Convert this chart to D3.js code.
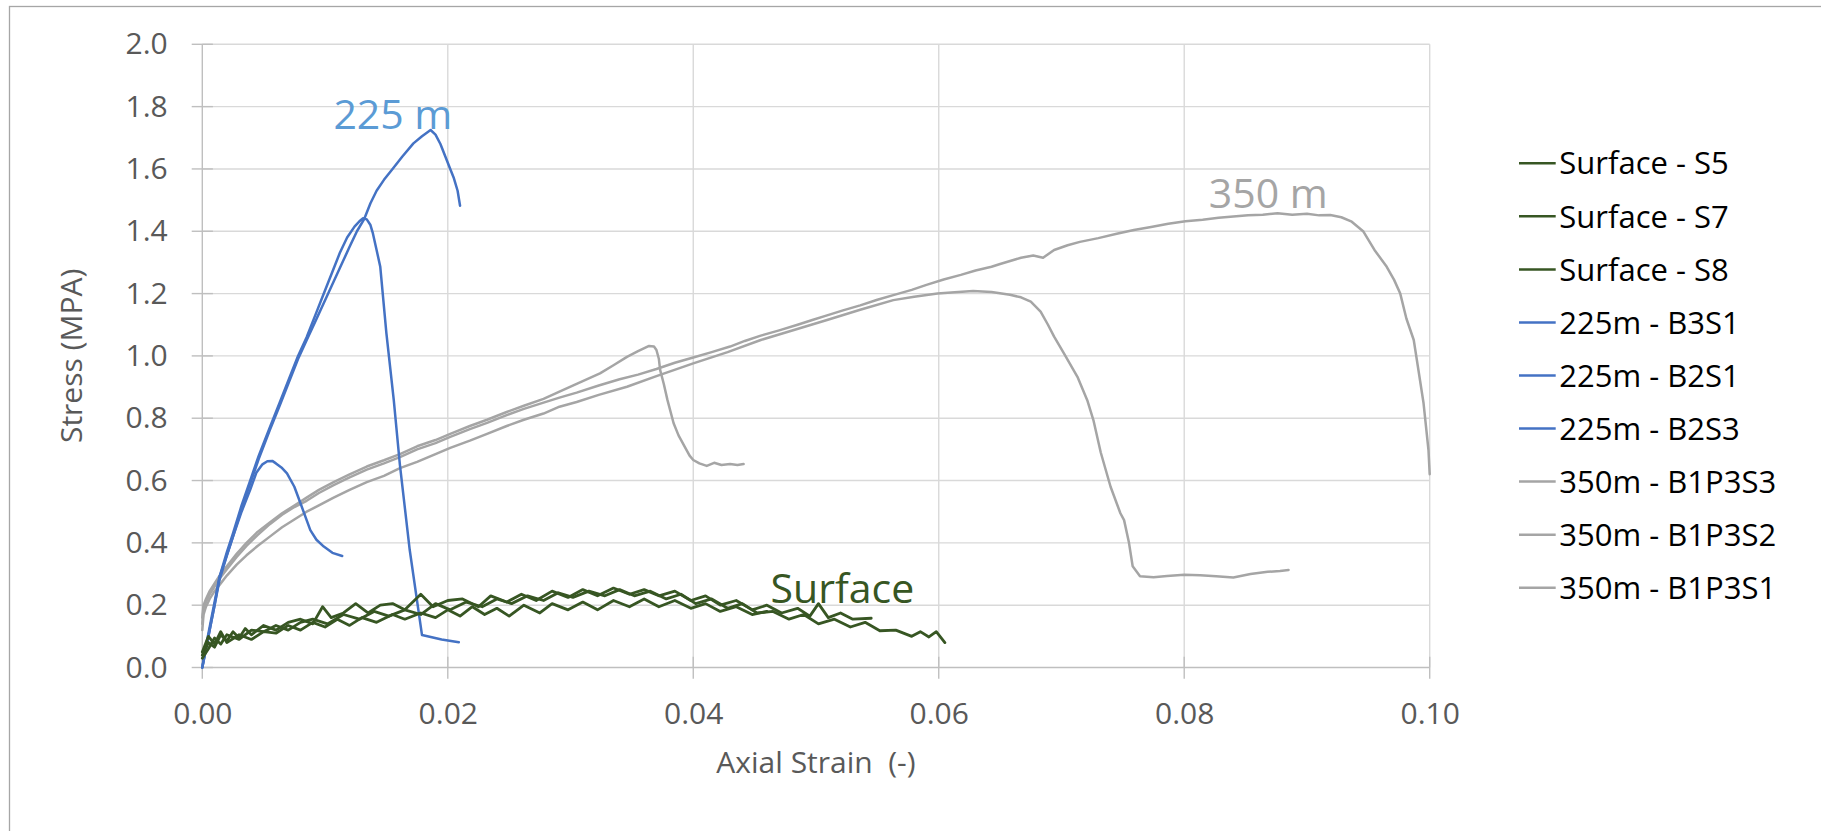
<!DOCTYPE html>
<meta charset="utf-8">
<html>
<script src="https://d3js.org/d3.v7.min.js"></script>
<style>
    body { margin: 0; background: #fff; }
    text { font-family: "Open Sans", sans-serif; }
</style>
<body>
<div id="my_dataviz"></div>
<script>

    // tick values
    var xTicks = [0, 0.02, 0.04, 0.06, 0.08, 0.10];
    var yTicks = [0, 0.2, 0.4, 0.6, 0.8, 1.0, 1.2, 1.4, 1.6, 1.8, 2.0];

    // series names (legend order) and the group they belong to
    var seriesNames = ["Surface - S5", "Surface - S7", "Surface - S8",
        "225m - B3S1", "225m - B2S1", "225m - B2S3",
        "350m - B1P3S3", "350m - B1P3S2", "350m - B1P3S1"];
    var seriesGroups = ["surface", "surface", "surface", "d225", "d225", "d225", "d350", "d350", "d350"];

    // [axial strain, stress MPa]
    var surfaceS5 = [[0, 0.04], [0.0005, 0.08], [0.001, 0.065], [0.0015, 0.105], [0.002, 0.085], [0.0025, 0.115], [0.003, 0.095],
        [0.0035, 0.125], [0.004, 0.105], [0.005, 0.135], [0.006, 0.12], [0.007, 0.145], [0.008, 0.155], [0.009, 0.14],
        [0.0098, 0.195], [0.0105, 0.16], [0.0115, 0.175], [0.0125, 0.205], [0.0135, 0.175], [0.0145, 0.2], [0.0155, 0.205],
        [0.0165, 0.185], [0.0178, 0.235], [0.0188, 0.195], [0.02, 0.215], [0.0212, 0.22], [0.0225, 0.195], [0.0235, 0.23],
        [0.0248, 0.21], [0.026, 0.235], [0.0272, 0.215], [0.0285, 0.245], [0.0298, 0.225], [0.031, 0.25], [0.0322, 0.23],
        [0.0335, 0.255], [0.0348, 0.235], [0.036, 0.25], [0.0372, 0.23], [0.0385, 0.245], [0.0398, 0.215], [0.041, 0.23],
        [0.0422, 0.2], [0.0435, 0.215], [0.0448, 0.185], [0.046, 0.2], [0.0472, 0.175], [0.0485, 0.19], [0.0495, 0.165],
        [0.0502, 0.205], [0.051, 0.16], [0.052, 0.175], [0.053, 0.155], [0.0545, 0.158]];
    var surfaceS7 = [[0, 0.03], [0.0005, 0.06], [0.001, 0.095], [0.0015, 0.075], [0.002, 0.105], [0.003, 0.09], [0.004, 0.12],
        [0.005, 0.115], [0.006, 0.135], [0.007, 0.12], [0.008, 0.145], [0.009, 0.155], [0.0102, 0.14], [0.0115, 0.17],
        [0.0128, 0.155], [0.014, 0.18], [0.0152, 0.165], [0.0165, 0.185], [0.0178, 0.17], [0.019, 0.205], [0.0202, 0.185],
        [0.0215, 0.21], [0.0228, 0.195], [0.024, 0.22], [0.0252, 0.205], [0.0265, 0.23], [0.0278, 0.215], [0.029, 0.24],
        [0.0302, 0.225], [0.0315, 0.245], [0.0328, 0.23], [0.034, 0.25], [0.0352, 0.23], [0.0365, 0.245], [0.0378, 0.22],
        [0.039, 0.235], [0.0402, 0.205], [0.0415, 0.22], [0.0428, 0.19], [0.044, 0.205], [0.0452, 0.175], [0.0465, 0.18],
        [0.0478, 0.155], [0.049, 0.17], [0.0502, 0.14], [0.0515, 0.155], [0.0528, 0.13], [0.054, 0.145], [0.0552, 0.118],
        [0.0565, 0.12], [0.0578, 0.1], [0.0585, 0.115], [0.0592, 0.098], [0.0598, 0.115], [0.0605, 0.08]];
    var surfaceS8 = [[0, 0.05], [0.0005, 0.1], [0.001, 0.075], [0.0015, 0.115], [0.002, 0.08], [0.003, 0.105], [0.004, 0.09],
        [0.005, 0.115], [0.006, 0.11], [0.007, 0.135], [0.008, 0.12], [0.009, 0.145], [0.01, 0.13], [0.011, 0.155],
        [0.012, 0.135], [0.013, 0.16], [0.0142, 0.145], [0.0155, 0.17], [0.0165, 0.155], [0.0178, 0.175], [0.019, 0.16],
        [0.02, 0.185], [0.021, 0.165], [0.022, 0.195], [0.023, 0.17], [0.024, 0.19], [0.025, 0.165], [0.0262, 0.2],
        [0.0275, 0.175], [0.0285, 0.205], [0.0298, 0.185], [0.031, 0.21], [0.0322, 0.185], [0.0335, 0.215], [0.0348, 0.195],
        [0.036, 0.22], [0.0372, 0.195], [0.0385, 0.215], [0.0398, 0.19], [0.041, 0.205], [0.0422, 0.18], [0.0435, 0.195],
        [0.0448, 0.17], [0.046, 0.18]];

    var b3s1 = [[0, 0], [0.0003, 0.06], [0.0006, 0.12], [0.001, 0.2], [0.0014, 0.29], [0.002, 0.36], [0.0025, 0.42],
        [0.0032, 0.51], [0.0039, 0.59], [0.0046, 0.67], [0.0055, 0.762], [0.0063, 0.84], [0.0071, 0.92], [0.0078, 0.99],
        [0.0085, 1.05], [0.0092, 1.11], [0.0099, 1.17], [0.0106, 1.23], [0.0113, 1.29], [0.012, 1.35], [0.0126, 1.4],
        [0.0132, 1.44], [0.0137, 1.49], [0.0142, 1.53], [0.0148, 1.565], [0.0155, 1.6], [0.0163, 1.64], [0.0172, 1.682],
        [0.0179, 1.705], [0.0186, 1.725], [0.019, 1.71], [0.0194, 1.68], [0.0198, 1.64], [0.0202, 1.6], [0.0205, 1.57],
        [0.0208, 1.53], [0.021, 1.482]];
    var b2s1 = [[0, 0], [0.0003, 0.07], [0.0006, 0.13], [0.001, 0.21], [0.0014, 0.29], [0.002, 0.37], [0.0025, 0.43],
        [0.0032, 0.52], [0.0039, 0.6], [0.0046, 0.68], [0.0055, 0.77], [0.0063, 0.85], [0.0071, 0.93], [0.0078, 1.0],
        [0.0085, 1.06], [0.0092, 1.13], [0.0099, 1.2], [0.0106, 1.27], [0.0112, 1.33], [0.0118, 1.38], [0.0124, 1.415],
        [0.0128, 1.432], [0.0131, 1.442], [0.0134, 1.438], [0.0137, 1.42], [0.0139, 1.393], [0.0142, 1.34],
        [0.0145, 1.286], [0.015, 1.072], [0.0156, 0.858], [0.0161, 0.65], [0.0169, 0.377], [0.0179, 0.104],
        [0.0195, 0.09], [0.0209, 0.081]];
    var b2s3 = [[0, 0], [0.0003, 0.06], [0.0006, 0.12], [0.001, 0.2], [0.0014, 0.28], [0.002, 0.36], [0.0025, 0.42],
        [0.0032, 0.5], [0.0039, 0.57], [0.0044, 0.625], [0.0049, 0.652], [0.0053, 0.662], [0.0057, 0.663], [0.006, 0.655],
        [0.0065, 0.64], [0.0069, 0.623], [0.0075, 0.58], [0.008, 0.527], [0.0088, 0.441], [0.0093, 0.41], [0.0099, 0.388],
        [0.0106, 0.368], [0.0114, 0.358]];

    var b1p3s3 = [[0, 0.16], [0.0001, 0.2], [0.0003, 0.22], [0.0006, 0.245], [0.001, 0.27], [0.0015, 0.3], [0.002, 0.325],
        [0.0028, 0.365], [0.0036, 0.4], [0.0045, 0.435], [0.0055, 0.465], [0.0065, 0.495], [0.0075, 0.52], [0.0085, 0.545],
        [0.0095, 0.57], [0.0107, 0.595], [0.012, 0.62], [0.0134, 0.645], [0.0148, 0.665], [0.0161, 0.685], [0.0175, 0.71],
        [0.019, 0.73], [0.0202, 0.75], [0.0218, 0.775], [0.0232, 0.795], [0.0248, 0.82], [0.0262, 0.84], [0.0278, 0.862],
        [0.0291, 0.885], [0.0305, 0.91], [0.0324, 0.944], [0.0335, 0.97], [0.0346, 0.997], [0.0355, 1.015], [0.0364, 1.032],
        [0.0368, 1.03], [0.037, 1.019], [0.0372, 0.99], [0.0373, 0.955], [0.0376, 0.91], [0.0379, 0.858], [0.0384, 0.784],
        [0.0388, 0.745], [0.0393, 0.709], [0.0397, 0.68], [0.04, 0.666], [0.0405, 0.655], [0.0411, 0.647], [0.0417, 0.657],
        [0.0423, 0.65], [0.043, 0.653], [0.0436, 0.65], [0.0441, 0.653]];
    var b1p3s2 = [[0, 0.12], [0.0001, 0.17], [0.0003, 0.195], [0.0006, 0.22], [0.001, 0.245], [0.0015, 0.27], [0.002, 0.295],
        [0.0028, 0.33], [0.0036, 0.36], [0.0045, 0.39], [0.0055, 0.42], [0.0065, 0.45], [0.0075, 0.475], [0.0085, 0.5],
        [0.0095, 0.52], [0.0107, 0.545], [0.012, 0.57], [0.0134, 0.595], [0.0148, 0.615], [0.0161, 0.64], [0.0175, 0.66],
        [0.019, 0.685], [0.0202, 0.705], [0.0218, 0.728], [0.0232, 0.75], [0.0248, 0.775], [0.0262, 0.795], [0.0278, 0.815],
        [0.0291, 0.837], [0.0305, 0.852], [0.0323, 0.875], [0.0346, 0.901], [0.037, 0.935], [0.04, 0.976], [0.0428, 1.012],
        [0.0455, 1.051], [0.0482, 1.083], [0.0509, 1.115], [0.0536, 1.148], [0.0563, 1.179], [0.058, 1.19], [0.0599, 1.2],
        [0.0613, 1.204], [0.0628, 1.208], [0.0643, 1.205], [0.0658, 1.196], [0.0667, 1.188], [0.0675, 1.174],
        [0.0683, 1.142], [0.0689, 1.1], [0.0694, 1.062], [0.0702, 1.008], [0.0713, 0.933], [0.0721, 0.858],
        [0.0726, 0.794], [0.0732, 0.69], [0.074, 0.58], [0.0748, 0.495], [0.0751, 0.473], [0.0755, 0.4], [0.0758, 0.325],
        [0.0764, 0.293], [0.0775, 0.29], [0.0786, 0.294], [0.08, 0.298], [0.0813, 0.296], [0.0826, 0.293], [0.084, 0.289],
        [0.0854, 0.3], [0.0868, 0.307], [0.0878, 0.31], [0.0885, 0.313]];
    var b1p3s1 = [[0, 0.14], [0.0001, 0.19], [0.0003, 0.21], [0.0006, 0.235], [0.001, 0.26], [0.0015, 0.29], [0.002, 0.315],
        [0.0028, 0.355], [0.0036, 0.39], [0.0045, 0.425], [0.0055, 0.46], [0.0065, 0.49], [0.0075, 0.515], [0.0085, 0.535],
        [0.0095, 0.56], [0.0107, 0.585], [0.012, 0.61], [0.0134, 0.635], [0.0148, 0.655], [0.0161, 0.675], [0.0175, 0.7],
        [0.019, 0.72], [0.0202, 0.74], [0.0218, 0.765], [0.0232, 0.785], [0.0248, 0.81], [0.0262, 0.83], [0.0278, 0.85],
        [0.0291, 0.866], [0.0305, 0.882], [0.0323, 0.905], [0.034, 0.925], [0.0355, 0.94], [0.037, 0.958], [0.0385, 0.978],
        [0.04, 0.995], [0.0415, 1.012], [0.043, 1.03], [0.0442, 1.048], [0.0455, 1.065], [0.047, 1.082], [0.0485, 1.1],
        [0.0497, 1.115], [0.0509, 1.13], [0.0522, 1.146], [0.0536, 1.162], [0.055, 1.18], [0.0563, 1.195], [0.0578, 1.212],
        [0.059, 1.228], [0.0604, 1.245], [0.0618, 1.26], [0.063, 1.274], [0.0643, 1.286], [0.065, 1.295], [0.0667, 1.315],
        [0.0677, 1.322], [0.0685, 1.315], [0.0694, 1.34], [0.0705, 1.355], [0.0715, 1.366], [0.073, 1.378], [0.0745, 1.392],
        [0.0759, 1.404], [0.0773, 1.414], [0.0787, 1.424], [0.0801, 1.432], [0.0815, 1.437], [0.0828, 1.443], [0.084, 1.447],
        [0.0852, 1.451], [0.0864, 1.453], [0.0876, 1.458], [0.0888, 1.453], [0.09, 1.456], [0.091, 1.451], [0.0919, 1.452],
        [0.0928, 1.445], [0.0936, 1.432], [0.0946, 1.399], [0.0955, 1.34], [0.0965, 1.286], [0.0971, 1.244], [0.0976, 1.2],
        [0.0981, 1.12], [0.0987, 1.051], [0.0991, 0.95], [0.0995, 0.848], [0.0999, 0.698], [0.1, 0.62]];

    var seriesValues = [surfaceS5, surfaceS7, surfaceS8, b3s1, b2s1, b2s3, b1p3s3, b1p3s2, b1p3s1];

    // in-chart labels, anchored in data coordinates
    var annoText = ["225 m", "350 m", "Surface"];
    var annoGroup = ["d225", "d350", "surface"];
    var annoAt = [[0.01068, 1.727], [0.082, 1.474], [0.0463, 0.208]];

    // styles
    var lineColor = { surface: "#375623", d225: "#4472C4", d350: "#A5A5A5" };
    var lineWidth = { surface: 2.8, d225: 2.5, d350: 2.5 };
    var annoColor = { surface: "#375623", d225: "#5B9BD5", d350: "#A5A5A5" };

    var margin = { top: 44.3, right: 391.3, bottom: 163.5, left: 202.3 },
        width = 1821 - margin.left - margin.right,
        height = 831 - margin.top - margin.bottom;

    var root = d3.select("#my_dataviz")
        .append("svg")
        .attr("width", 1821)
        .attr("height", 831);

    // chart border
    root.append("rect")
        .attr("x", 9.5).attr("y", 6.5)
        .attr("width", 1830).attr("height", 840)
        .attr("fill", "#fff")
        .attr("stroke", "#A6A6A6")
        .attr("stroke-width", 1.3);

    var svg = root.append("g")
        .attr("transform", "translate(" + margin.left + "," + margin.top + ")");

    var x = d3.scaleLinear().domain([0, 0.1]).range([0, width]);
    var y = d3.scaleLinear().domain([0, 2.0]).range([height, 0]);

    // gridlines
    svg.append("g").selectAll("line.h")
        .data(yTicks.slice(1)).enter().append("line")
        .attr("x1", 0).attr("x2", width)
        .attr("y1", function (d) { return y(d); }).attr("y2", function (d) { return y(d); })
        .attr("stroke", "#D9D9D9").attr("stroke-width", 1.4);
    svg.append("g").selectAll("line.v")
        .data(xTicks.slice(1)).enter().append("line")
        .attr("y1", 0).attr("y2", height)
        .attr("x1", function (d) { return x(d); }).attr("x2", function (d) { return x(d); })
        .attr("stroke", "#D9D9D9").attr("stroke-width", 1.4);

    // axis lines and cross tick marks
    svg.append("line").attr("x1", 0).attr("x2", width).attr("y1", height).attr("y2", height)
        .attr("stroke", "#BFBFBF").attr("stroke-width", 1.4);
    svg.append("line").attr("x1", 0).attr("x2", 0).attr("y1", 0).attr("y2", height)
        .attr("stroke", "#BFBFBF").attr("stroke-width", 1.4);
    svg.append("g").selectAll("line")
        .data(yTicks).enter().append("line")
        .attr("x1", -10.6).attr("x2", 10.6)
        .attr("y1", function (d) { return y(d); }).attr("y2", function (d) { return y(d); })
        .attr("stroke", "#BFBFBF").attr("stroke-width", 1.4);
    svg.append("g").selectAll("line")
        .data(xTicks).enter().append("line")
        .attr("y1", height - 10.8).attr("y2", height + 11.3)
        .attr("x1", function (d) { return x(d); }).attr("x2", function (d) { return x(d); })
        .attr("stroke", "#BFBFBF").attr("stroke-width", 1.4);

    // tick labels
    var xAxis = svg.append("g")
        .attr("transform", "translate(0," + height + ")")
        .call(d3.axisBottom(x).tickValues(xTicks).tickFormat(d3.format(".2f")).tickSize(0).tickPadding(34));
    var yAxis = svg.append("g")
        .call(d3.axisLeft(y).tickValues(yTicks).tickFormat(d3.format(".1f")).tickSize(0).tickPadding(34.6));
    [xAxis, yAxis].forEach(function (a) {
        a.select(".domain").remove();
        a.selectAll("text")
            .style("font-family", "'Open Sans', sans-serif")
            .style("font-size", "30px")
            .attr("fill", "#595959");
    });
    xAxis.selectAll("text").attr("dy", "0.36em").attr("y", 45.5);

    // axis titles
    svg.append("text")
        .attr("x", width / 2)
        .attr("y", height + 106)
        .style("text-anchor", "middle")
        .style("font-size", "30px")
        .attr("fill", "#595959")
        .attr("xml:space", "preserve")
        .text("Axial Strain  (-)");
    svg.append("text")
        .attr("transform", "rotate(-90)")
        .attr("x", 0 - height / 2)
        .attr("y", 82 - margin.left)
        .style("text-anchor", "middle")
        .style("font-size", "30px")
        .attr("fill", "#595959")
        .text("Stress (MPA)");

    // the curves
    var line = d3.line()
        .x(function (d) { return x(d[0]); })
        .y(function (d) { return y(d[1]); });

    var order = [6, 7, 8, 3, 4, 5, 0, 1, 2];
    order.forEach(function (i) {
        svg.append("path")
            .datum(seriesValues[i])
            .attr("fill", "none")
            .attr("stroke", lineColor[seriesGroups[i]])
            .attr("stroke-width", lineWidth[seriesGroups[i]])
            .attr("stroke-linejoin", "round")
            .attr("stroke-linecap", "round")
            .attr("d", line);
    });

    // in-chart labels
    annoText.forEach(function (t, i) {
        svg.append("text")
            .attr("x", x(annoAt[i][0]))
            .attr("y", y(annoAt[i][1]))
            .style("font-size", "41px")
            .attr("fill", annoColor[annoGroup[i]])
            .text(t);
    });

    // legend
    var legend = root.append("g").attr("transform", "translate(1519,163.3)");
    var rows = legend.selectAll("g")
        .data(seriesNames).enter().append("g")
        .attr("transform", function (d, i) { return "translate(0," + (i * 53.05) + ")"; });
    rows.append("line")
        .attr("x1", 0).attr("x2", 36.7)
        .attr("stroke", function (d, i) { return lineColor[seriesGroups[i]]; })
        .attr("stroke-width", 2.5);
    rows.append("text")
        .attr("x", 40.3)
        .attr("dy", "0.36em")
        .style("font-size", "31px")
        .attr("fill", "#000")
        .text(function (d) { return d; });

</script>
</body>
</html>
